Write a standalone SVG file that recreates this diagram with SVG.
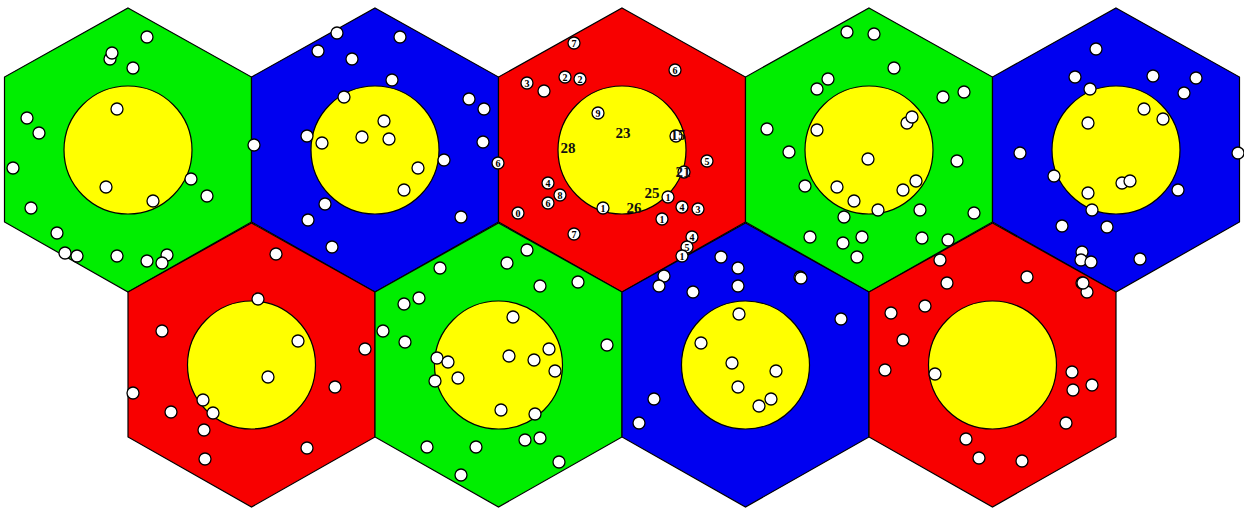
<svg xmlns="http://www.w3.org/2000/svg" width="1244" height="508" viewBox="0 0 1244 508">
<style>
.hx{stroke:#000;stroke-width:1.2}
.g{fill:#00EE00}.b{fill:#0000F0}.r{fill:#F80000}
.y{fill:#FFFF00;stroke:#000;stroke-width:1.2}
.d{fill:#fff;stroke:#000;stroke-width:1.3}
.n{font-family:"Liberation Serif",serif;font-size:10px;font-weight:bold;fill:#000;text-anchor:middle;dominant-baseline:central}
.m{font-family:"Liberation Serif",serif;font-size:15px;font-weight:bold;fill:#111;text-anchor:middle;dominant-baseline:central}
</style>
<defs>
<polygon id="hex" points="0,-142 123.5,-73 123.5,72 0,142 -123.5,72 -123.5,-73"/>
</defs>
<rect width="1244" height="508" fill="#fff"/>
<g id="hex1"><use href="#hex" x="128" y="150" class="hx g"/><circle cx="128" cy="150" r="64" class="y"/></g>
<g id="hex2"><use href="#hex" x="375" y="150" class="hx b"/><circle cx="375" cy="150" r="64" class="y"/></g>
<g id="hex3"><use href="#hex" x="622" y="150" class="hx r"/><circle cx="622" cy="150" r="64" class="y"/></g>
<g id="hex4"><use href="#hex" x="869" y="150" class="hx g"/><circle cx="869" cy="150" r="64" class="y"/></g>
<g id="hex5"><use href="#hex" x="1116" y="150" class="hx b"/><circle cx="1116" cy="150" r="64" class="y"/></g>
<g id="hex6"><use href="#hex" x="251.5" y="365" class="hx r"/><circle cx="251.5" cy="365" r="64" class="y"/></g>
<g id="hex7"><use href="#hex" x="498.5" y="365" class="hx g"/><circle cx="498.5" cy="365" r="64" class="y"/></g>
<g id="hex8"><use href="#hex" x="745.5" y="365" class="hx b"/><circle cx="745.5" cy="365" r="64" class="y"/></g>
<g id="hex9"><use href="#hex" x="992.5" y="365" class="hx r"/><circle cx="992.5" cy="365" r="64" class="y"/></g>
<g id="points">
<!-- hex1 -->
<circle class="d" cx="147" cy="37" r="6"/><circle class="d" cx="110" cy="59" r="6"/><circle class="d" cx="112" cy="53" r="6"/>
<circle class="d" cx="133" cy="68" r="6"/><circle class="d" cx="117" cy="109" r="6"/><circle class="d" cx="27" cy="118" r="6"/>
<circle class="d" cx="39" cy="133" r="6"/><circle class="d" cx="13" cy="168" r="6"/><circle class="d" cx="106" cy="187" r="6"/>
<circle class="d" cx="191" cy="179" r="6"/><circle class="d" cx="207" cy="196" r="6"/><circle class="d" cx="153" cy="201" r="6"/>
<circle class="d" cx="31" cy="208" r="6"/><circle class="d" cx="57" cy="233" r="6"/><circle class="d" cx="65" cy="253" r="6"/>
<circle class="d" cx="77" cy="256" r="6"/><circle class="d" cx="117" cy="256" r="6"/><circle class="d" cx="147" cy="261" r="6"/>
<circle class="d" cx="167" cy="255" r="6"/><circle class="d" cx="162" cy="263" r="6"/>
<!-- hex2 -->
<circle class="d" cx="337" cy="33" r="6"/><circle class="d" cx="400" cy="37" r="6"/><circle class="d" cx="318" cy="51" r="6"/>
<circle class="d" cx="352" cy="59" r="6"/><circle class="d" cx="392" cy="80" r="6"/><circle class="d" cx="344" cy="97" r="6"/>
<circle class="d" cx="469" cy="99" r="6"/><circle class="d" cx="484" cy="109" r="6"/><circle class="d" cx="384" cy="121" r="6"/>
<circle class="d" cx="307" cy="136" r="6"/><circle class="d" cx="322" cy="143" r="6"/><circle class="d" cx="362" cy="137" r="6"/>
<circle class="d" cx="389" cy="139" r="6"/><circle class="d" cx="254" cy="145" r="6"/><circle class="d" cx="483" cy="142" r="6"/>
<circle class="d" cx="444" cy="160" r="6"/><circle class="d" cx="418" cy="168" r="6"/><circle class="d" cx="404" cy="190" r="6"/>
<circle class="d" cx="325" cy="204" r="6"/><circle class="d" cx="308" cy="220" r="6"/><circle class="d" cx="461" cy="217" r="6"/>
<circle class="d" cx="332" cy="247" r="6"/>
<!-- hex4 -->
<circle class="d" cx="847" cy="32" r="6"/><circle class="d" cx="874" cy="34" r="6"/><circle class="d" cx="894" cy="68" r="6"/>
<circle class="d" cx="828" cy="79" r="6"/><circle class="d" cx="817" cy="89" r="6"/><circle class="d" cx="943" cy="97" r="6"/>
<circle class="d" cx="964" cy="92" r="6"/><circle class="d" cx="907" cy="123" r="6"/><circle class="d" cx="912" cy="117" r="6"/>
<circle class="d" cx="767" cy="129" r="6"/><circle class="d" cx="817" cy="130" r="6"/><circle class="d" cx="789" cy="152" r="6"/>
<circle class="d" cx="868" cy="159" r="6"/><circle class="d" cx="957" cy="161" r="6"/><circle class="d" cx="805" cy="186" r="6"/>
<circle class="d" cx="837" cy="187" r="6"/><circle class="d" cx="916" cy="181" r="6"/><circle class="d" cx="903" cy="190" r="6"/>
<circle class="d" cx="854" cy="201" r="6"/><circle class="d" cx="878" cy="210" r="6"/><circle class="d" cx="920" cy="210" r="6"/>
<circle class="d" cx="844" cy="217" r="6"/><circle class="d" cx="974" cy="213" r="6"/><circle class="d" cx="810" cy="237" r="6"/>
<circle class="d" cx="862" cy="237" r="6"/><circle class="d" cx="843" cy="243" r="6"/><circle class="d" cx="922" cy="238" r="6"/>
<circle class="d" cx="948" cy="240" r="6"/><circle class="d" cx="857" cy="257" r="6"/><circle class="d" cx="940" cy="260" r="6"/>
<circle class="d" cx="800" cy="277" r="6"/><circle class="d" cx="947" cy="283" r="6"/>
<!-- hex5 -->
<circle class="d" cx="1096" cy="49" r="6"/><circle class="d" cx="1075" cy="77" r="6"/><circle class="d" cx="1153" cy="76" r="6"/>
<circle class="d" cx="1196" cy="78" r="6"/><circle class="d" cx="1184" cy="93" r="6"/><circle class="d" cx="1090" cy="89" r="6"/>
<circle class="d" cx="1144" cy="109" r="6"/><circle class="d" cx="1163" cy="119" r="6"/><circle class="d" cx="1088" cy="123" r="6"/>
<circle class="d" cx="1020" cy="153" r="6"/><circle class="d" cx="1238" cy="153" r="6"/><circle class="d" cx="1054" cy="176" r="6"/>
<circle class="d" cx="1122" cy="183" r="6"/><circle class="d" cx="1130" cy="181" r="6"/><circle class="d" cx="1178" cy="190" r="6"/>
<circle class="d" cx="1088" cy="193" r="6"/><circle class="d" cx="1092" cy="210" r="6"/><circle class="d" cx="1062" cy="226" r="6"/>
<circle class="d" cx="1107" cy="227" r="6"/><circle class="d" cx="1082" cy="252" r="6"/><circle class="d" cx="1081" cy="260" r="6"/>
<circle class="d" cx="1091" cy="262" r="6"/><circle class="d" cx="1140" cy="259" r="6"/><circle class="d" cx="1027" cy="277" r="6"/>
<circle class="d" cx="1082" cy="283" r="6"/><circle class="d" cx="1087" cy="292" r="6"/>
<!-- hex6 -->
<circle class="d" cx="276" cy="254" r="6"/><circle class="d" cx="258" cy="299" r="6"/><circle class="d" cx="162" cy="331" r="6"/>
<circle class="d" cx="298" cy="341" r="6"/><circle class="d" cx="365" cy="349" r="6"/><circle class="d" cx="268" cy="377" r="6"/>
<circle class="d" cx="133" cy="393" r="6"/><circle class="d" cx="335" cy="387" r="6"/><circle class="d" cx="203" cy="400" r="6"/>
<circle class="d" cx="213" cy="413" r="6"/><circle class="d" cx="171" cy="412" r="6"/><circle class="d" cx="204" cy="430" r="6"/>
<circle class="d" cx="307" cy="448" r="6"/><circle class="d" cx="205" cy="459" r="6"/>
<!-- hex7 -->
<circle class="d" cx="527" cy="250" r="6"/><circle class="d" cx="507" cy="263" r="6"/><circle class="d" cx="440" cy="268" r="6"/>
<circle class="d" cx="540" cy="286" r="6"/><circle class="d" cx="578" cy="282" r="6"/><circle class="d" cx="419" cy="298" r="6"/>
<circle class="d" cx="404" cy="304" r="6"/><circle class="d" cx="513" cy="317" r="6"/><circle class="d" cx="383" cy="331" r="6"/>
<circle class="d" cx="405" cy="342" r="6"/><circle class="d" cx="607" cy="345" r="6"/><circle class="d" cx="437" cy="358" r="6"/>
<circle class="d" cx="448" cy="362" r="6"/><circle class="d" cx="509" cy="356" r="6"/><circle class="d" cx="534" cy="360" r="6"/>
<circle class="d" cx="549" cy="349" r="6"/><circle class="d" cx="555" cy="371" r="6"/><circle class="d" cx="435" cy="381" r="6"/>
<circle class="d" cx="458" cy="378" r="6"/><circle class="d" cx="501" cy="410" r="6"/><circle class="d" cx="535" cy="414" r="6"/>
<circle class="d" cx="525" cy="440" r="6"/><circle class="d" cx="540" cy="438" r="6"/><circle class="d" cx="427" cy="447" r="6"/>
<circle class="d" cx="476" cy="447" r="6"/><circle class="d" cx="559" cy="462" r="6"/><circle class="d" cx="461" cy="475" r="6"/>
<!-- hex8 -->
<circle class="d" cx="721" cy="257" r="6"/><circle class="d" cx="738" cy="268" r="6"/><circle class="d" cx="801" cy="278" r="6"/>
<circle class="d" cx="664" cy="276" r="6"/><circle class="d" cx="659" cy="286" r="6"/><circle class="d" cx="693" cy="292" r="6"/>
<circle class="d" cx="738" cy="286" r="6"/><circle class="d" cx="739" cy="314" r="6"/><circle class="d" cx="841" cy="319" r="6"/>
<circle class="d" cx="701" cy="343" r="6"/><circle class="d" cx="732" cy="363" r="6"/><circle class="d" cx="776" cy="371" r="6"/>
<circle class="d" cx="738" cy="387" r="6"/><circle class="d" cx="654" cy="399" r="6"/><circle class="d" cx="771" cy="399" r="6"/>
<circle class="d" cx="759" cy="406" r="6"/><circle class="d" cx="639" cy="423" r="6"/>
<!-- hex9 -->
<circle class="d" cx="1083" cy="283" r="6"/><circle class="d" cx="925" cy="306" r="6"/><circle class="d" cx="891" cy="313" r="6"/>
<circle class="d" cx="903" cy="340" r="6"/><circle class="d" cx="885" cy="370" r="6"/><circle class="d" cx="935" cy="374" r="6"/>
<circle class="d" cx="1072" cy="372" r="6"/><circle class="d" cx="1073" cy="390" r="6"/><circle class="d" cx="1092" cy="385" r="6"/>
<circle class="d" cx="1066" cy="423" r="6"/><circle class="d" cx="966" cy="439" r="6"/><circle class="d" cx="979" cy="458" r="6"/>
<circle class="d" cx="1022" cy="461" r="6"/>
<!-- hex3 labelled -->
<circle class="d" cx="574" cy="43" r="6"/><text class="n" x="574" y="43">7</text>
<circle class="d" cx="527" cy="83" r="6"/><text class="n" x="527" y="83">3</text>
<circle class="d" cx="544" cy="91" r="6"/>
<circle class="d" cx="565" cy="77" r="6"/><text class="n" x="565" y="77">2</text>
<circle class="d" cx="580" cy="79" r="6"/><text class="n" x="580" y="79">2</text>
<circle class="d" cx="675" cy="70" r="6"/><text class="n" x="675" y="70">6</text>
<circle class="d" cx="598" cy="113" r="6"/><text class="n" x="598" y="113">9</text>
<text class="m" x="623" y="133">23</text>
<circle class="d" cx="676" cy="136" r="6"/><text class="m" x="678" y="135">15</text>
<text class="m" x="568" y="148">28</text>
<circle class="d" cx="498" cy="163" r="6"/><text class="n" x="498" y="163">6</text>
<circle class="d" cx="707" cy="161" r="6"/><text class="n" x="707" y="161">5</text>
<circle class="d" cx="684" cy="172" r="6"/><text class="m" x="683" y="172">21</text>
<circle class="d" cx="548" cy="183" r="6"/><text class="n" x="548" y="183">4</text>
<circle class="d" cx="560" cy="195" r="6"/><text class="n" x="560" y="195">8</text>
<circle class="d" cx="548" cy="203" r="6"/><text class="n" x="548" y="203">6</text>
<circle class="d" cx="518" cy="213" r="6"/><text class="n" x="518" y="213">0</text>
<circle class="d" cx="668" cy="197" r="6"/><text class="n" x="668" y="197">1</text>
<text class="m" x="652" y="193">25</text>
<circle class="d" cx="603" cy="208" r="6"/><text class="n" x="603" y="208">1</text>
<text class="m" x="634" y="208">26</text>
<circle class="d" cx="682" cy="207" r="6"/><text class="n" x="682" y="207">4</text>
<circle class="d" cx="698" cy="209" r="6"/><text class="n" x="698" y="209">3</text>
<circle class="d" cx="662" cy="219" r="6"/><text class="n" x="662" y="219">1</text>
<circle class="d" cx="574" cy="234" r="6"/><text class="n" x="574" y="234">7</text>
<circle class="d" cx="692" cy="237" r="6"/><text class="n" x="692" y="237">4</text>
<circle class="d" cx="687" cy="247" r="6"/><text class="n" x="687" y="247">5</text>
<circle class="d" cx="682" cy="256" r="6"/><text class="n" x="682" y="256">1</text>
</g>
</svg>
